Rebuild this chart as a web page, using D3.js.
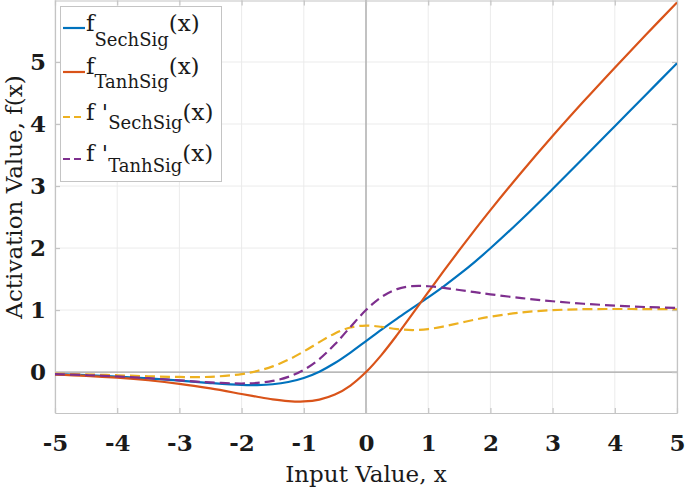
<!DOCTYPE html>
<html>
<head>
<meta charset="utf-8">
<script src="https://cdn.jsdelivr.net/npm/d3@7/dist/d3.min.js"></script>
<style>
  html, body { margin: 0; padding: 0; background: #fff; }
  svg { display: block; }
  text { font-family: "DejaVu Serif", serif; fill: #1a1a1a; }
</style>
</head>
<body>
<svg id="chart" width="685" height="488"></svg>
<script>
// ---- data ----
const xValues = [-5, -4.5, -4, -3.5, -3, -2.5, -2, -1.75, -1.5, -1.25, -1, -0.75, -0.5, -0.25, 0,
                 0.25, 0.5, 0.75, 1, 1.25, 1.5, 1.75, 2, 2.5, 3, 3.5, 4, 4.5, 5];
const sechSig = [-0.033, -0.049, -0.071, -0.101, -0.138, -0.177, -0.207, -0.209, -0.196, -0.160, -0.095, 0.007, 0.146, 0.315, 0.5,
                 0.686, 0.863, 1.034, 1.205, 1.383, 1.574, 1.778, 1.996, 2.461, 2.952, 3.456, 3.964, 4.473, 4.980];
const tanhSig = [-0.040, -0.060, -0.090, -0.132, -0.189, -0.264, -0.353, -0.398, -0.439, -0.467, -0.474, -0.444, -0.363, -0.217, 0,
                 0.278, 0.599, 0.941, 1.288, 1.631, 1.966, 2.293, 2.611, 3.222, 3.806, 4.366, 4.909, 5.439, 5.960];
const dSechSig = [-0.026, -0.037, -0.051, -0.067, -0.079, -0.076, -0.032, 0.017, 0.092, 0.198, 0.332, 0.483, 0.623, 0.719, 0.75,
                  0.729, 0.693, 0.678, 0.694, 0.736, 0.790, 0.845, 0.893, 0.962, 0.998, 1.014, 1.017, 1.016, 1.013];
const dTanhSig = [-0.033, -0.049, -0.070, -0.099, -0.133, -0.167, -0.184, -0.175, -0.143, -0.078, 0.036, 0.210, 0.448, 0.728, 1.0,
                  1.212, 1.338, 1.386, 1.384, 1.358, 1.324, 1.288, 1.254, 1.193, 1.142, 1.102, 1.072, 1.049, 1.033];
const xTicks = [-5, -4, -3, -2, -1, 0, 1, 2, 3, 4, 5];
const yTicks = [0, 1, 2, 3, 4, 5];
const seriesNames = ["SechSig", "TanhSig", "SechSig", "TanhSig"];
const seriesPrime = [false, false, true, true];
const seriesColors = ["#0072BD", "#D95319", "#EDB120", "#7E2F8E"];
const seriesDashed = [false, false, true, true];
const seriesValues = [sechSig, tanhSig, dSechSig, dTanhSig];

// ---- layout ----
const L = 55, R = 677, T = 0, B = 413;
const svg = d3.select("#chart");
const x = d3.scaleLinear().domain([-5, 5]).range([L, R]);
const y = d3.scaleLinear().domain([-0.66, 6]).range([B, T]);

svg.append("defs").append("clipPath").attr("id", "plotclip")
  .append("rect").attr("x", L).attr("y", T).attr("width", R - L).attr("height", B - T);

// grid
const grid = svg.append("g");
grid.selectAll("line.gx").data(xTicks).join("line")
  .attr("x1", d => x(d)).attr("x2", d => x(d)).attr("y1", T).attr("y2", B)
  .attr("stroke", "#ebebeb").attr("stroke-width", 1);
grid.selectAll("line.gy").data(yTicks).join("line")
  .attr("y1", d => y(d)).attr("y2", d => y(d)).attr("x1", L).attr("x2", R)
  .attr("stroke", "#ebebeb").attr("stroke-width", 1);

// zero lines
svg.append("line").attr("x1", x(0)).attr("x2", x(0)).attr("y1", T).attr("y2", B)
  .attr("stroke", "#a6a6a6").attr("stroke-width", 1.3);
svg.append("line").attr("x1", L).attr("x2", R).attr("y1", y(0)).attr("y2", y(0))
  .attr("stroke", "#a6a6a6").attr("stroke-width", 1.3);

// axes (ticks inside)
const axB = d3.axisBottom(x).tickValues(xTicks).tickSizeInner(-5).tickSizeOuter(0).tickPadding(22)
  .tickFormat(d => d < 0 ? "-" + Math.abs(d) : String(d));
const gB = svg.append("g").attr("transform", `translate(0,${B})`).call(axB);
const axT = d3.axisTop(x).tickValues(xTicks).tickSizeInner(-5).tickSizeOuter(0).tickFormat("");
const gT = svg.append("g").attr("transform", `translate(0,${T + 0.5})`).call(axT);
const axL = d3.axisLeft(y).tickValues(yTicks).tickSizeInner(-5).tickSizeOuter(0).tickPadding(9)
  .tickFormat(d3.format("d"));
const gL = svg.append("g").attr("transform", `translate(${L},0)`).call(axL);
const axR = d3.axisRight(y).tickValues(yTicks).tickSizeInner(-5).tickSizeOuter(0).tickFormat("");
const gR = svg.append("g").attr("transform", `translate(${R},0)`).call(axR);
[gB, gT, gL, gR].forEach(g => {
  g.select(".domain").attr("stroke", "#c4c4c4").attr("stroke-width", 1.2);
  g.selectAll(".tick line").attr("stroke", "#c4c4c4").attr("stroke-width", 1.2);
  g.selectAll(".tick text").attr("font-family", "DejaVu Serif").attr("font-size", 23)
    .attr("font-weight", "bold").attr("fill", "#1a1a1a");
});
gB.selectAll(".tick text").attr("dy", "0.71em");

// series
const line = d3.line().curve(d3.curveCatmullRom)
  .x((d, i) => x(xValues[i])).y(d => y(d));
const plot = svg.append("g").attr("clip-path", "url(#plotclip)");
seriesValues.forEach((vals, k) => {
  plot.append("path").datum(vals).attr("d", line)
    .attr("fill", "none").attr("stroke", seriesColors[k]).attr("stroke-width", 2.2)
    .attr("stroke-dasharray", seriesDashed[k] ? "10,5" : null);
});

// axis titles
svg.append("text").attr("x", (L + R) / 2).attr("y", 482).attr("text-anchor", "middle")
  .attr("font-size", 23).text("Input Value, x");
svg.append("text").attr("transform", "translate(22,197) rotate(-90)").attr("text-anchor", "middle")
  .attr("font-size", 23).text("Activation Value, f(x)");

// legend
const leg = svg.append("g");
leg.append("rect").attr("x", 60.5).attr("y", 6.5).attr("width", 161).attr("height", 175)
  .attr("fill", "#fff").attr("stroke", "#c4c4c4").attr("stroke-width", 1);
const rowY = [28, 72, 117, 159];
const mainBase = [31, 74, 120, 161];
const subBase = [46, 88, 129, 172];
seriesNames.forEach((name, k) => {
  leg.append("line").attr("x1", 63).attr("x2", 85).attr("y1", rowY[k]).attr("y2", rowY[k])
    .attr("stroke", seriesColors[k]).attr("stroke-width", 2.2)
    .attr("stroke-dasharray", seriesDashed[k] ? "7,4" : null);
  const t = leg.append("text").attr("x", 86).attr("y", mainBase[k]).attr("font-size", 23);
  t.append("tspan").text(seriesPrime[k] ? "f '" : "f");
  t.append("tspan").attr("font-size", 18).attr("dy", subBase[k] - mainBase[k]).text(name);
  t.append("tspan").attr("dy", mainBase[k] - subBase[k]).text("(x)");
});
</script>
</body>
</html>
